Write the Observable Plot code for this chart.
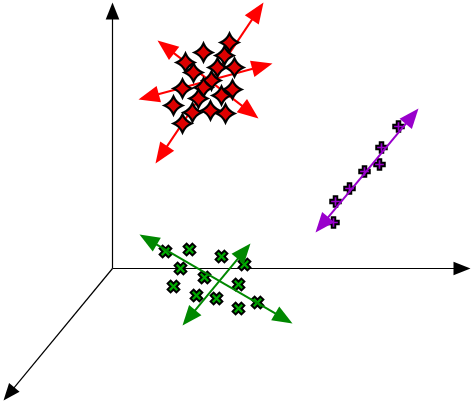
<!DOCTYPE html>
<html>
<head>
<meta charset="utf-8">
<script src="https://cdn.jsdelivr.net/npm/d3@7"></script>
<script src="https://cdn.jsdelivr.net/npm/@observablehq/plot@0.6"></script>
<style>
  html, body { margin: 0; padding: 0; background: #fff; }
</style>
</head>
<body>
<div id="chart"></div>
<script>
// Coordinates in the chart's own frame: origin where the three axes meet, y upward.
const axisLines = [[0, 0, 0, 266], [0, 0, 358, 0], [0, 0, -109, -132]];

const redPoints = [[117,226],[91,216],[112,213],[73,206],[105,201],[122,201],[81,196],[99,188],[70,180],[91,181],[120,179],[109,173],[86,170],[61,163],[80,156],[98,158],[113,155],[70,145]];
const redArrows = [[43,105,151,266],[45,228,146,150],[26,169,160,205]];

const purplePoints = [[286,142],[269,121],[267,104],[252,97],[237,80],[223,67],[221,46]];
const purpleArrows = [[203,36,306,160]];

const greenPoints = [[53,17],[77,19],[109,12],[68,0],[132,4],[92,-9],[61,-18],[126,-16],[84,-27],[104,-30],[126,-40],[145,-34]];
const greenArrows = [[27,34,180,-55],[138,25,70,-57]];

// custom symbols
const arrowHead = {draw(ctx, size) {
  const r = Math.sqrt(size / Math.PI), L = 2 * r, W = 0.8 * r;
  ctx.moveTo(0, 0); ctx.lineTo(W, L); ctx.lineTo(-W, L); ctx.closePath();
}};
const star4 = {draw(ctx, size) {
  const R = Math.sqrt(size / Math.PI), c = R * 0.3;
  ctx.moveTo(0, -R);
  ctx.quadraticCurveTo(c, -c, R, 0);
  ctx.quadraticCurveTo(c, c, 0, R);
  ctx.quadraticCurveTo(-c, c, -R, 0);
  ctx.quadraticCurveTo(-c, -c, 0, -R);
  ctx.closePath();
}};
const plusSym = {draw(ctx, size) {
  const a = Math.sqrt(size / Math.PI), t = a * 0.34;
  ctx.moveTo(-t, -a); ctx.lineTo(t, -a); ctx.lineTo(t, -t); ctx.lineTo(a, -t);
  ctx.lineTo(a, t); ctx.lineTo(t, t); ctx.lineTo(t, a); ctx.lineTo(-t, a);
  ctx.lineTo(-t, t); ctx.lineTo(-a, t); ctx.lineTo(-a, -t); ctx.lineTo(-t, -t);
  ctx.closePath();
}};

function lines(arrows, shortenStart, shortenEnd) {
  return arrows.map(([x1, y1, x2, y2]) => {
    const d = Math.hypot(x2 - x1, y2 - y1), u = (x2 - x1) / d, v = (y2 - y1) / d;
    return {x1: x1 + u * shortenStart, y1: y1 + v * shortenStart, x2: x2 - u * shortenEnd, y2: y2 - v * shortenEnd};
  });
}
function heads(arrows, both) {
  const out = [];
  for (const [x1, y1, x2, y2] of arrows) {
    const ang = Math.atan2(x2 - x1, y2 - y1) * 180 / Math.PI;
    out.push({x: x2, y: y2, a: ang});
    if (both) out.push({x: x1, y: y1, a: ang + 180});
  }
  return out;
}

function arrowMarks(arrows, color, both, r, sw) {
  return [
    Plot.link(lines(arrows, both ? 8 : 0, 8), {x1: "x1", y1: "y1", x2: "x2", y2: "y2", stroke: color, strokeWidth: sw}),
    Plot.dot(heads(arrows, both), {x: "x", y: "y", rotate: "a", symbol: arrowHead, r, fill: color, stroke: "none"})
  ];
}

const chart = Plot.plot({
  width: 471,
  height: 404,
  margin: 0,
  x: {axis: null, domain: [-112, 359]},
  y: {axis: null, domain: [-136, 268]},
  style: {background: "#fff"},
  marks: [
    ...arrowMarks(axisLines, "black", false, 8.5, 1.2),
    ...arrowMarks(redArrows, "#ff0000", true, 10.5, 2),
    Plot.dot(redPoints, {x: d => d[0], y: d => d[1], symbol: star4, r: 9, fill: "#dd0000", stroke: "black", strokeWidth: 2.2}),
    Plot.dot(purplePoints, {x: d => d[0], y: d => d[1], symbol: plusSym, r: 5.3, fill: "#9900cc", stroke: "black", strokeWidth: 1.9}),
    ...arrowMarks(purpleArrows, "#9900cc", true, 10, 2),
    Plot.dot(greenPoints, {x: d => d[0], y: d => d[1], symbol: plusSym, rotate: 45, r: 6.2, fill: "#00aa00", stroke: "black", strokeWidth: 2}),
    ...arrowMarks(greenArrows, "#008800", true, 10, 2)
  ]
});
document.getElementById("chart").appendChild(chart);
</script>
</body>
</html>
